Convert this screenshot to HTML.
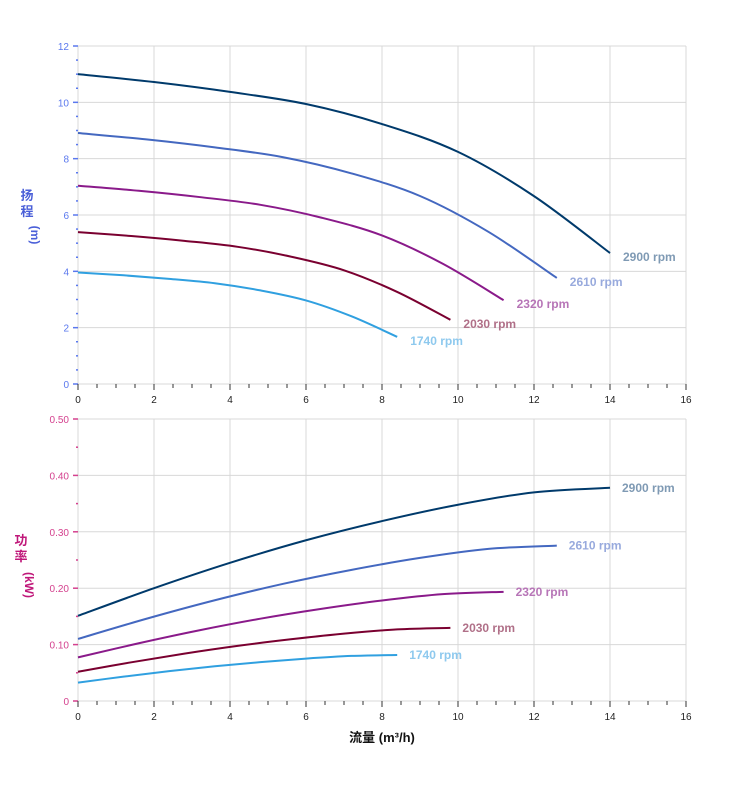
<!DOCTYPE html>
<html><head><meta charset="utf-8"><style>
body{margin:0;background:#fff;}
svg{display:block;font-family:"Liberation Sans","Noto Sans CJK SC",sans-serif;}
</style></head><body>
<svg id="s" width="752" height="797" xmlns="http://www.w3.org/2000/svg">
<text x="27" y="200" font-size="13" font-weight="bold" fill="#4a5fd8" text-anchor="middle">扬</text>
<text x="27" y="216" font-size="13" font-weight="bold" fill="#4a5fd8" text-anchor="middle">程</text>
<text transform="translate(31,235) rotate(90)" font-size="12" font-weight="bold" fill="#4a5fd8" text-anchor="middle">(m)</text>
<text x="21" y="545" font-size="13" font-weight="bold" fill="#c0187a" text-anchor="middle">功</text>
<text x="21" y="561" font-size="13" font-weight="bold" fill="#c0187a" text-anchor="middle">率</text>
<text transform="translate(25,585) rotate(90)" font-size="12" font-weight="bold" fill="#c0187a" text-anchor="middle">(kW)</text>
<text x="382" y="742" font-size="13" font-weight="bold" fill="#111" text-anchor="middle">流量 (m³/h)</text>
</svg>
<script>
var s=document.getElementById('s'),NS='http://www.w3.org/2000/svg',h='';
function X(q){return 78+q*38;}
// grid
function panel(top,bot,ymax,nMaj,fmt,col,minorN){
 var i;
 for(i=0;i<=8;i++){var x=X(i*2);h+='<line x1="'+x+'" y1="'+top+'" x2="'+x+'" y2="'+bot+'" stroke="#d8d8d8" stroke-width="1"/>';}
 for(i=0;i<=nMaj;i++){var y=bot-(bot-top)*i/nMaj;h+='<line x1="78" y1="'+y+'" x2="686" y2="'+y+'" stroke="#d8d8d8" stroke-width="1"/>';
  h+='<line x1="73" y1="'+y+'" x2="78" y2="'+y+'" stroke="'+col+'" stroke-width="1.5"/>';
  h+='<text x="69" y="'+(y+4)+'" font-size="10" fill="'+col+'" text-anchor="end">'+fmt(i)+'</text>';}
 var tot=nMaj*minorN;
 for(i=0;i<tot;i++){if(i%minorN==0)continue;var y=bot-(bot-top)*i/tot;h+='<line x1="76" y1="'+y+'" x2="78" y2="'+y+'" stroke="'+col+'" stroke-width="1.5"/>';}
 for(i=0;i<=32;i++){var x=X(i/2);h+='<line x1="'+x+'" y1="'+bot+'" x2="'+x+'" y2="'+(bot+(i%4==0?6:4))+'" stroke="#333" stroke-width="1"/>';}
 for(i=0;i<=8;i++){h+='<text x="'+X(i*2)+'" y="'+(bot+19)+'" font-size="10" fill="#222" text-anchor="middle">'+(i*2)+'</text>';}
}
panel(46,384,12,6,function(i){return ''+i*2;},'#5a78ee',4);
panel(419,701,0.5,5,function(i){return (i*0.1).toFixed(2).replace('0.00','0');},'#d4418e',2);
function path(pts){var d='M'+pts[0][0]+','+pts[0][1];
 for(var i=0;i<pts.length-1;i++){var p0=pts[i-1]||pts[i],p1=pts[i],p2=pts[i+1],p3=pts[i+2]||p2;
  d+=' C'+(p1[0]+(p2[0]-p0[0])/6)+','+(p1[1]+(p2[1]-p0[1])/6)+' '+(p2[0]-(p3[0]-p1[0])/6)+','+(p2[1]-(p3[1]-p1[1])/6)+' '+p2[0]+','+p2[1];}
 return d;}
var H=[[0,11],[2,10.72],[4,10.37],[6,9.94],[8,9.23],[10,8.24],[12,6.67],[14,4.65]];
var P=[[0,0.151],[2,0.2],[4,0.245],[6,0.285],[8,0.319],[10,0.348],[12,0.37],[14,0.378]];
var S=[[2900,'#003a6b','#7f9ab4'],[2610,'#4468c0','#98aadd'],[2320,'#8a1a8a','#b775b7'],[2030,'#7a0030','#b07088'],[1740,'#30a0e0','#8ec9ee']];
S.forEach(function(r){var k=r[0]/2900;
 var ph=H.map(function(p){return [X(p[0]*k),384-p[1]*k*k*28.1667];});
 var pp=P.map(function(p){return [X(p[0]*k),701-p[1]*k*k*k*564];});
 h+='<path d="'+path(ph)+'" fill="none" stroke="'+r[1]+'" stroke-width="2"/>';
 h+='<path d="'+path(pp)+'" fill="none" stroke="'+r[1]+'" stroke-width="2"/>';
 var e=ph[ph.length-1],f=pp[pp.length-1];
 h+='<text x="'+(e[0]+13)+'" y="'+(e[1]+8)+'" font-size="12" font-weight="bold" fill="'+r[2]+'">'+r[0]+' rpm</text>';
 h+='<text x="'+(f[0]+12)+'" y="'+(f[1]+4)+'" font-size="12" font-weight="bold" fill="'+r[2]+'">'+r[0]+' rpm</text>';
});
s.insertAdjacentHTML('beforeend',h);
</script>
</body></html>
